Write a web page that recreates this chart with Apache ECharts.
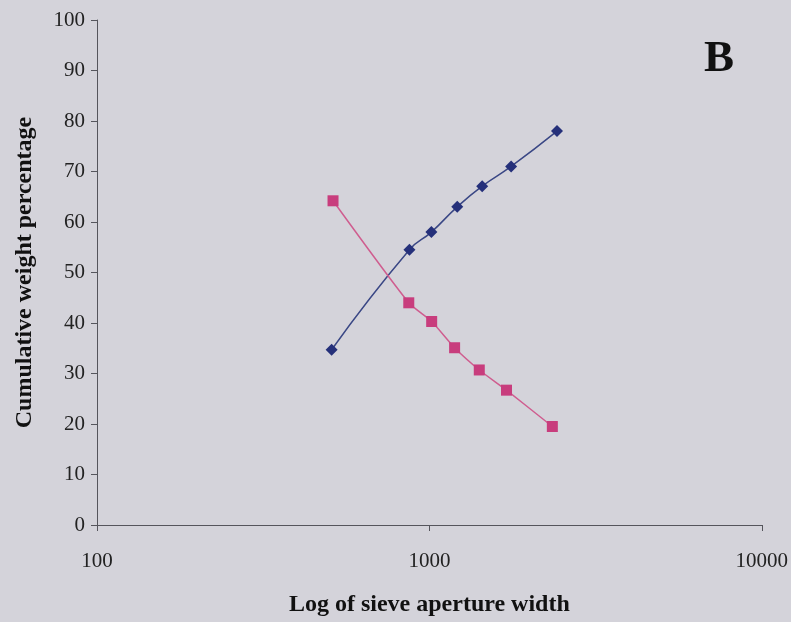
<!DOCTYPE html>
<html>
<head>
<meta charset="utf-8">
<script src="https://cdn.jsdelivr.net/npm/echarts@6/dist/echarts.min.js"></script>
<style>
    html, body { margin: 0; padding: 0; background: #d4d3da; }
    #chart { width: 791px; height: 622px; }
</style>
</head>
<body>
<div id="chart"></div>
<script>
// blue diamonds: aperture width (log x) and cumulative %
var blueSizes = [508, 871, 1014, 1213, 1442, 1762, 2421];
var blueValues = [34.7, 54.5, 58.0, 63.0, 67.1, 71.0, 78.0];
// pink squares
var pinkSizes = [513, 867, 1016, 1191, 1413, 1706, 2344];
var pinkValues = [64.2, 44.0, 40.3, 35.1, 30.7, 26.7, 19.5];
// x tick labels (log axis)
var xTicks = [100, 1000, 10000];

function pairs(xs, ys) {
    let out = [];
    for (let i = 0; i < xs.length; i++) {
        out.push([xs[i], ys[i]]);
    }
    return out;
}

var serif = '"Liberation Serif", "DejaVu Serif", serif';
var axisColor = '#55555c';

var myChart = echarts.init(document.getElementById('chart'));

var option = {
    backgroundColor: '#d4d3da',
    animation: false,
    grid: {
        left: 97,
        right: 28,
        top: 20,
        bottom: 96
    },
    graphic: [
        {
            type: 'text',
            left: 704,
            top: 37,
            style: {
                text: 'B',
                font: 'bold 45px ' + serif,
                fill: '#111'
            }
        }
    ],
    xAxis: {
        type: 'log',
        logBase: 10,
        min: xTicks[0],
        max: xTicks[xTicks.length - 1],
        name: 'Log of sieve aperture width',
        nameLocation: 'middle',
        nameGap: 68,
        nameTextStyle: {
            fontFamily: serif,
            fontWeight: 'bold',
            fontSize: 24,
            color: '#111'
        },
        axisLine: { lineStyle: { color: axisColor, width: 1 } },
        axisTick: { show: true, length: 6, lineStyle: { color: axisColor } },
        minorTick: { show: false },
        splitLine: { show: false },
        axisLabel: {
            margin: 26,
            fontFamily: serif,
            fontSize: 21,
            color: '#222',
            formatter: function (v) { return String(v); }
        }
    },
    yAxis: {
        type: 'value',
        min: 0,
        max: 100,
        interval: 10,
        name: 'Cumulative weight percentage',
        nameLocation: 'middle',
        nameGap: 60,
        nameTextStyle: {
            fontFamily: serif,
            fontWeight: 'bold',
            fontSize: 24,
            color: '#111'
        },
        axisLine: { show: true, lineStyle: { color: axisColor, width: 1 } },
        axisTick: { show: true, length: 6, lineStyle: { color: axisColor } },
        splitLine: { show: false },
        axisLabel: {
            margin: 12,
            fontFamily: serif,
            fontSize: 21,
            color: '#222'
        }
    },
    series: [
        {
            name: 'Blue',
            type: 'line',
            data: pairs(blueSizes, blueValues),
            smooth: 0.5,
            symbol: 'diamond',
            symbolSize: 12,
            itemStyle: { color: '#25307a' },
            lineStyle: { color: '#3a4785', width: 1.5 }
        },
        {
            name: 'Pink',
            type: 'line',
            data: pairs(pinkSizes, pinkValues),
            smooth: 0.2,
            symbol: 'rect',
            symbolSize: 11,
            itemStyle: { color: '#c83d7d' },
            lineStyle: { color: '#cf5d8f', width: 1.5 }
        }
    ]
};

myChart.setOption(option);
</script>
</body>
</html>
